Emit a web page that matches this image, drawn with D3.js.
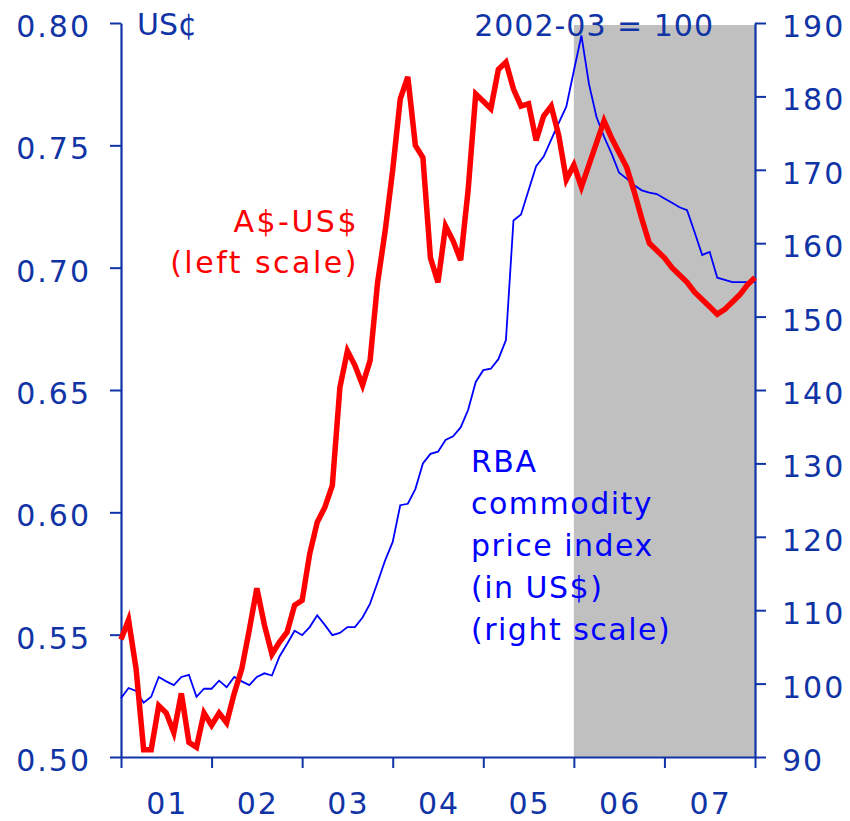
<!DOCTYPE html>
<html>
<head>
<meta charset="utf-8">
<script src="https://cdn.jsdelivr.net/npm/d3@7"></script>
<style>
  html, body { margin: 0; padding: 0; background: #fff; }
  svg { display: block; font-family: "DejaVu Sans", Verdana, sans-serif; }
</style>
</head>
<body>
<svg id="chart" width="850" height="821"></svg>
<script>
// Monthly observations starting January 2001
const startYear = 2001;
const endYear = 2008;
const forecastStart = 2006;

// A$-US$ exchange rate (US cents per A$, left scale)
const audUsd = [
  0.548, 0.556, 0.536, 0.503, 0.503, 0.521, 0.518, 0.510, 0.526, 0.506, 0.504, 0.518,
  0.513, 0.518, 0.514, 0.526, 0.536, 0.552, 0.569, 0.554, 0.542, 0.547, 0.551, 0.562,
  0.564, 0.583, 0.596, 0.602, 0.611, 0.651, 0.666, 0.660, 0.652, 0.662, 0.694, 0.715,
  0.740, 0.769, 0.778, 0.750, 0.745, 0.704, 0.694, 0.717, 0.711, 0.703, 0.732, 0.771,
  0.768, 0.765, 0.781, 0.784, 0.773, 0.766, 0.767, 0.752, 0.762, 0.766, 0.754, 0.736,
  0.742, 0.733, 0.742, 0.751, 0.760, 0.753, 0.747, 0.741, 0.731, 0.720, 0.710, 0.707,
  0.704, 0.700, 0.697, 0.694, 0.690, 0.687, 0.684, 0.681, 0.683, 0.686, 0.689, 0.693,
  0.696
];

// RBA commodity price index in US$ (2002-03 = 100, right scale)
const commodityIndex = [
  98.0, 99.4, 99.0, 97.4, 98.2, 100.9, 100.3, 99.8, 100.9, 101.2, 98.2, 99.3,
  99.3, 100.4, 99.5, 100.9, 100.3, 99.8, 100.9, 101.4, 101.1, 103.7, 105.4, 107.2,
  106.6, 107.7, 109.3, 108.0, 106.6, 106.9, 107.7, 107.7, 109.0, 110.9, 113.8, 116.8,
  119.3, 124.3, 124.5, 126.5, 130.0, 131.3, 131.6, 133.2, 133.7, 134.9, 137.3, 141.1,
  142.7, 142.9, 144.2, 146.8, 163.1, 163.9, 167.2, 170.5, 171.8, 174.1, 176.4, 178.6,
  183.5, 188.3, 181.7, 177.2, 174.5, 172.2, 169.6, 168.8, 167.9, 167.2, 166.9, 166.7,
  166.1, 165.5, 164.9, 164.5, 161.5, 158.4, 158.8, 155.3, 155.0, 154.7, 154.7, 154.7,
  154.7
];

const yearLabels = ["01", "02", "03", "04", "05", "06", "07"];
const leftTicks = [0.50, 0.55, 0.60, 0.65, 0.70, 0.75, 0.80];
const rightTicks = [90, 100, 110, 120, 130, 140, 150, 160, 170, 180, 190];

const redLabel = ["A$-US$", "(left scale)"];
const blueLabel = ["RBA", "commodity", "price index", "(in US$)", "(right scale)"];

const axisColor = "#1034a6";
const margin = { left: 121, right: 95, top: 23, bottom: 64 };
const W = 850, H = 821;

const svg = d3.select("#chart");

const x = d3.scaleLinear().domain([startYear, endYear]).range([margin.left, W - margin.right]);
const yL = d3.scaleLinear().domain([0.50, 0.80]).range([H - margin.bottom, margin.top]);
const yR = d3.scaleLinear().domain([90, 190]).range([H - margin.bottom, margin.top]);

const dateOf = i => startYear + i / 12;

// Shaded forecast period
svg.append("rect")
  .attr("x", x(forecastStart))
  .attr("y", yR(190) + 2)
  .attr("width", x(endYear) - x(forecastStart))
  .attr("height", yR(90) - yR(190) - 2)
  .attr("fill", "#c0c0c0");

// Axes
function styleAxis(g) {
  g.select(".domain").attr("stroke", axisColor).attr("stroke-width", 2.2);
  g.selectAll(".tick line").attr("stroke", axisColor).attr("stroke-width", 2);
  g.selectAll(".tick text").attr("fill", axisColor).attr("font-size", 30)
    .attr("font-family", "DejaVu Sans, Verdana, sans-serif").style("letter-spacing", "2px");
}

const leftAxis = svg.append("g")
  .attr("transform", `translate(${margin.left},0)`)
  .call(d3.axisLeft(yL).tickValues(leftTicks).tickFormat(d3.format(".2f")).tickSize(11).tickSizeOuter(0).tickPadding(19));
styleAxis(leftAxis);
leftAxis.selectAll(".tick text").attr("dy", "0.45em");

const rightAxis = svg.append("g")
  .attr("transform", `translate(${W - margin.right},0)`)
  .call(d3.axisRight(yR).tickValues(rightTicks).tickFormat(d3.format("d")).tickSize(11).tickSizeOuter(0).tickPadding(16));
styleAxis(rightAxis);
rightAxis.selectAll(".tick text").attr("dy", "0.45em");

const bottomAxis = svg.append("g")
  .attr("transform", `translate(0,${H - margin.bottom})`)
  .call(d3.axisBottom(x).tickValues(d3.range(startYear, endYear + 1)).tickFormat("").tickSize(11).tickSizeOuter(0));
styleAxis(bottomAxis);

// Year labels centred within each year
svg.append("g").selectAll("text")
  .data(yearLabels)
  .join("text")
  .attr("x", (d, i) => x(startYear + i + 0.5) + 1)
  .attr("y", H - 7)
  .attr("text-anchor", "middle")
  .attr("fill", axisColor)
  .attr("font-size", 30)
  .style("letter-spacing", "2px")
  .text(d => d);

// Unit labels
svg.append("text")
  .attr("x", margin.left + 16).attr("y", yL(0.80) + 12)
  .attr("fill", axisColor).attr("font-size", 30)
  .text("US¢");
svg.append("text")
  .attr("x", x(endYear) - 41).attr("y", yR(190) + 13)
  .attr("text-anchor", "end")
  .attr("fill", axisColor).attr("font-size", 30)
  .style("letter-spacing", "1px")
  .text("2002-03 = 100");

// Series lines
const lineL = d3.line().x((d, i) => x(dateOf(i))).y(d => yL(d));
const lineR = d3.line().x((d, i) => x(dateOf(i))).y(d => yR(d));

svg.append("path")
  .datum(commodityIndex)
  .attr("d", lineR)
  .attr("fill", "none")
  .attr("stroke", "#0000ff")
  .attr("stroke-width", 1.8);

svg.append("path")
  .datum(audUsd)
  .attr("d", lineL)
  .attr("fill", "none")
  .attr("stroke", "#ff0000")
  .attr("stroke-width", 5.5);

// Series labels
svg.append("g").selectAll("text")
  .data(redLabel)
  .join("text")
  .attr("x", 359)
  .attr("y", (d, i) => 232 + i * 41)
  .attr("text-anchor", "end")
  .attr("fill", "#ff0000")
  .attr("font-size", 30)
  .style("letter-spacing", "2.5px")
  .text(d => d);

svg.append("g").selectAll("text")
  .data(blueLabel)
  .join("text")
  .attr("x", 471)
  .attr("y", (d, i) => 472 + i * 42)
  .attr("fill", "#0000ff")
  .attr("font-size", 30)
  .style("letter-spacing", "1.5px")
  .text(d => d);
</script>
</body>
</html>
